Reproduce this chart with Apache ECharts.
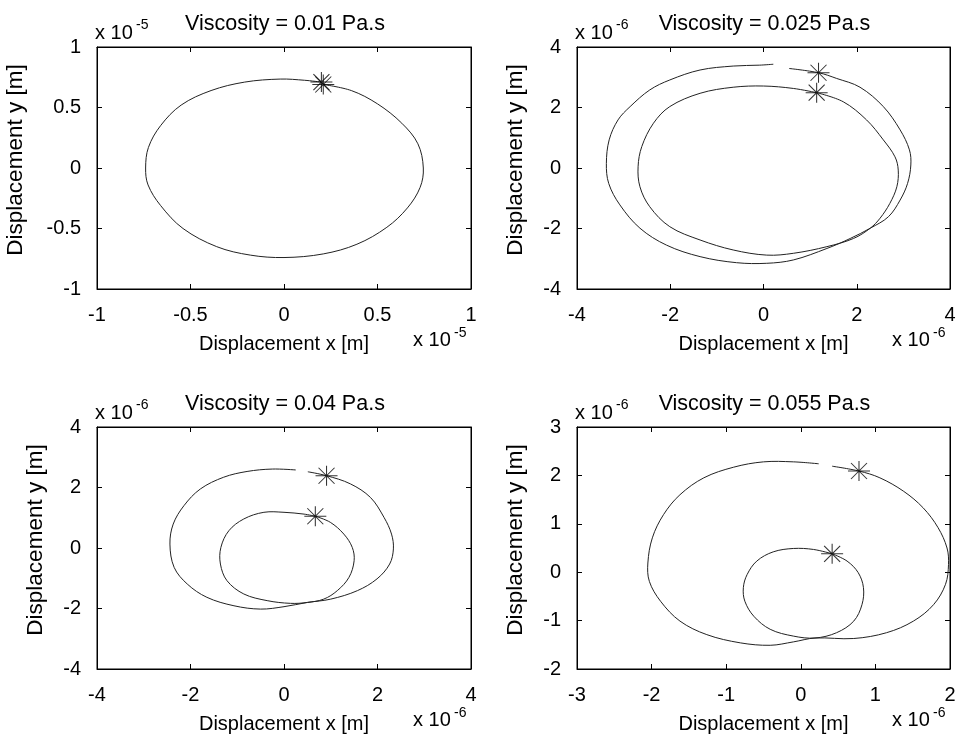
<!DOCTYPE html>
<html>
<head>
<meta charset="utf-8">
<script src="https://cdn.jsdelivr.net/npm/echarts@6/dist/echarts.min.js"></script>
<style>
  html, body { margin: 0; padding: 0; background: #fff; }
  #main { width: 963px; height: 742px; }
</style>
</head>
<body>
<div id="main"></div>
<script>
// viscosity of each panel [Pa.s]
var viscosities = ['0.01', '0.025', '0.04', '0.055'];
// axis multipliers, shown as "x 10^n"
var exponents = ['-5', '-6', '-6', '-6'];
// [min, max, step] of the axes
var xRanges = [[-1, 1, 0.5], [-4, 4, 2], [-4, 4, 2], [-3, 2, 1]];
var yRanges = [[-1, 1, 0.5], [-4, 4, 2], [-4, 4, 2], [-2, 3, 1]];

// trajectories, [x, y] in units of 10^n m
var path001 = [[0.21,0.69],[0.36,0.64],[0.5,0.53],[0.63,0.37],[0.716,0.2],[0.745,0.0],[0.728,-0.16],[0.66,-0.33],[0.55,-0.49],[0.39,-0.63],[0.21,-0.71],[0.0,-0.74],[-0.18,-0.72],[-0.36,-0.65],[-0.54,-0.5],[-0.66,-0.31],[-0.727,-0.14],[-0.74,0.0],[-0.725,0.17],[-0.66,0.35],[-0.55,0.52],[-0.39,0.64],[-0.21,0.71],[-0.02,0.735],[0.11,0.725],[0.2,0.71]];
var stars001 = [[0.2,0.71],[0.21,0.69]];

var outer0025 = [[0.55,3.29],[1.18,3.15],[1.57,2.96],[2.07,2.67],[2.57,2.03],[2.93,1.26],[3.13,0.6],[3.16,0.1],[3.09,-0.51],[2.93,-1.06],[2.68,-1.61],[2.29,-1.99],[1.86,-2.33],[1.36,-2.66],[0.64,-3.04],[0.07,-3.15],[-0.58,-3.13],[-1.36,-2.93],[-2.08,-2.55],[-2.65,-1.99],[-3.08,-1.22],[-3.32,-0.51],[-3.37,0.15],[-3.31,0.93],[-3.12,1.59],[-2.86,2.03],[-2.44,2.58],[-2.01,2.91],[-1.36,3.24],[-0.65,3.37],[-0.08,3.4],[0.21,3.43]];
var inner0025 = [[1.14,2.49],[1.71,2.19],[2.21,1.59],[2.57,0.93],[2.82,0.37],[2.89,-0.07],[2.86,-0.62],[2.71,-1.17],[2.5,-1.66],[2.29,-1.99],[1.93,-2.33],[1.36,-2.6],[0.64,-2.82],[0.07,-2.88],[-0.65,-2.71],[-1.36,-2.38],[-2.01,-1.94],[-2.44,-1.28],[-2.65,-0.62],[-2.69,0.04],[-2.61,0.71],[-2.36,1.48],[-2.01,2.03],[-1.36,2.47],[-0.65,2.67],[0.0,2.71],[0.64,2.63],[1.14,2.49]];
var stars0025 = [[1.18,3.15],[1.14,2.49]];

var outer004 = [[0.51,2.52],[0.91,2.39],[1.42,2.12],[1.85,1.67],[2.14,1.01],[2.3,0.46],[2.34,-0.03],[2.26,-0.53],[1.99,-1.02],[1.57,-1.41],[1.0,-1.69],[0.5,-1.8],[0.0,-1.94],[-0.5,-2.02],[-1.07,-1.91],[-1.65,-1.63],[-2.07,-1.19],[-2.35,-0.64],[-2.44,0.13],[-2.37,0.79],[-2.14,1.4],[-1.79,1.95],[-1.29,2.34],[-0.79,2.53],[-0.25,2.61],[0.25,2.58]];
var inner004 = [[0.67,1.05],[0.99,0.85],[1.28,0.46],[1.46,0.02],[1.5,-0.42],[1.39,-0.97],[1.14,-1.41],[0.85,-1.69],[0.5,-1.8],[0.14,-1.83],[-0.36,-1.74],[-0.86,-1.52],[-1.22,-1.08],[-1.36,-0.53],[-1.35,0.02],[-1.18,0.57],[-0.86,0.96],[-0.43,1.18],[0.0,1.18],[0.43,1.12],[0.67,1.05]];
var stars004 = [[0.91,2.39],[0.67,1.05]];

var outer0055 = [[0.42,2.19],[0.78,2.09],[1.06,1.95],[1.38,1.67],[1.64,1.33],[1.84,0.92],[1.96,0.5],[1.98,0.16],[1.94,-0.25],[1.78,-0.67],[1.51,-1.01],[1.15,-1.25],[0.71,-1.37],[0.19,-1.36],[-0.1,-1.44],[-0.41,-1.51],[-0.81,-1.46],[-1.26,-1.29],[-1.62,-1.01],[-1.88,-0.6],[-2.03,-0.19],[-2.05,0.19],[-1.99,0.71],[-1.84,1.19],[-1.62,1.6],[-1.3,1.95],[-0.9,2.17],[-0.5,2.28],[-0.1,2.28],[0.24,2.24]];
var inner0055 = [[0.42,0.38],[0.62,0.23],[0.77,-0.01],[0.84,-0.32],[0.82,-0.67],[0.71,-1.01],[0.48,-1.25],[0.19,-1.36],[-0.1,-1.32],[-0.41,-1.18],[-0.63,-0.91],[-0.75,-0.6],[-0.77,-0.32],[-0.72,-0.05],[-0.59,0.23],[-0.37,0.42],[-0.1,0.49],[0.17,0.47],[0.42,0.38]];
var stars0055 = [[0.78,2.09],[0.42,0.38]];

var paths = [[path001], [outer0025, inner0025], [outer004, inner004], [outer0055, inner0055]];
var stars = [stars001, stars0025, stars004, stars0055];

var FONT = '"Liberation Sans", Arial, sans-serif';
var boxes = [
  {left: 97, top: 47, width: 374, height: 242},
  {left: 577, top: 47, width: 373, height: 242},
  {left: 97, top: 427, width: 374, height: 242},
  {left: 577, top: 427, width: 373, height: 242}
];
var yNameGaps = [70, 50, 50, 50];
var asterisk = 'path://M0,10L22,10M11,0L11,20M3,2L19,18M19,2L3,18';

var chart = echarts.init(document.getElementById('main'));

function axis(r, extra) {
  var a = {
    type: 'value', min: r[0], max: r[1], interval: r[2],
    axisLine: {onZero: false, lineStyle: {color: '#000', width: 1}},
    axisTick: {inside: true, length: 5, lineStyle: {color: '#000'}},
    splitLine: {show: false},
    axisLabel: {color: '#000', fontFamily: FONT, fontSize: 20, margin: 16},
    nameTextStyle: {color: '#000', fontFamily: FONT, fontSize: 20}
  };
  for (var k in extra) a[k] = extra[k];
  return a;
}

// whole trajectory as one spline, drawn once through the axis scales
function trajectory(p) {
  return function (params, api) {
    if (params.dataIndex !== 0) return;
    var pts = p.map(function (d) { return api.coord(d); });
    return {type: 'polyline', shape: {points: pts, smooth: 0.35},
      style: {stroke: '#222', lineWidth: 1, fill: null}, silent: true};
  };
}

var grid = [], xAxis = [], yAxis = [], series = [], title = [], graphic = [];
boxes.forEach(function (b, i) {
  grid.push({left: b.left, top: b.top, width: b.width, height: b.height,
    show: true, borderColor: '#000', borderWidth: 1, backgroundColor: '#fff'});
  xAxis.push(axis(xRanges[i], {gridIndex: i, position: 'bottom',
    name: 'Displacement x [m]', nameLocation: 'middle', nameGap: 45}));
  xAxis.push(axis(xRanges[i], {gridIndex: i, position: 'top', axisLabel: {show: false}}));
  yAxis.push(axis(yRanges[i], {gridIndex: i, position: 'left',
    name: 'Displacement y [m]', nameLocation: 'middle', nameGap: yNameGaps[i],
    nameTextStyle: {color: '#000', fontFamily: FONT, fontSize: 22.5, padding: [0, 0, 0, 16]}}));
  yAxis.push(axis(yRanges[i], {gridIndex: i, position: 'right', axisLabel: {show: false}}));

  paths[i].forEach(function (p) {
    series.push({type: 'custom', xAxisIndex: 2 * i, yAxisIndex: 2 * i, data: p,
      renderItem: trajectory(p), silent: true});
  });
  series.push({type: 'scatter', xAxisIndex: 2 * i, yAxisIndex: 2 * i, data: stars[i],
    symbol: asterisk, symbolSize: [22, 20],
    itemStyle: {color: 'transparent', borderColor: '#000', borderWidth: 1}, silent: true});

  title.push({text: 'Viscosity = ' + viscosities[i] + ' Pa.s',
    left: b.left + b.width / 2 - 4, top: b.top - 39, textAlign: 'center',
    textStyle: {color: '#000', fontFamily: FONT, fontSize: 21.5, fontWeight: 'normal'}});

  // "x 10^n" multipliers, above the y axis and under the x axis
  var right = b.left + b.width, bottom = b.top + b.height;
  graphic.push(
    {type: 'text', left: b.left - 2, top: b.top - 24,
      style: {text: 'x 10', font: '20px ' + FONT, fill: '#000'}},
    {type: 'text', left: b.left + 39, top: b.top - 29,
      style: {text: exponents[i], font: '14px ' + FONT, fill: '#000'}},
    {type: 'text', left: right - 58, top: bottom + 41,
      style: {text: 'x 10', font: '20px ' + FONT, fill: '#000'}},
    {type: 'text', left: right - 17, top: bottom + 37,
      style: {text: exponents[i], font: '14px ' + FONT, fill: '#000'}}
  );
});

chart.setOption({
  animation: false,
  backgroundColor: '#fff',
  title: title,
  grid: grid,
  xAxis: xAxis,
  yAxis: yAxis,
  series: series,
  graphic: graphic
});
</script>
</body>
</html>
